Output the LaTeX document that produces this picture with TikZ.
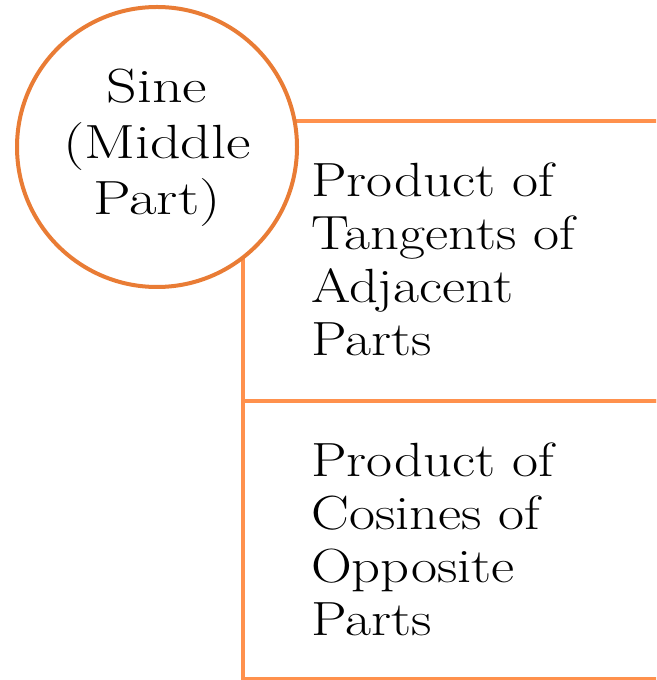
\documentclass[tikz,border=0pt]{standalone}
\usepackage{graphicx}
\definecolor{ringorange}{HTML}{E97C35}
\definecolor{boxorange}{HTML}{FF914D}
% widened serif lines for the labels
\newcommand{\widelines}[3]{\scalebox{#1}[1]{\begin{tabular}{@{}#2@{}}#3\end{tabular}}}
\begin{document}
\begin{tikzpicture}[x=1pt,y=1pt,
  panel/.style={draw=boxorange, line width=4pt, rectangle, inner sep=0pt,
    outer sep=0pt, minimum width=460pt, anchor=north west},
  label/.style={font=\fontsize{48}{53}\selectfont, inner sep=0pt,
    anchor=north west},
  ring/.style={draw=ringorange, fill=white, line width=4pt, circle,
    minimum size=280pt, inner sep=0pt,
    font=\fontsize{48}{56}\selectfont}]
  \useasboundingbox (0,0) rectangle (656,680);
  \clip (0,0) rectangle (656,680);
  % two stacked panels, open to the right
  \node[panel, minimum height=280pt] (top) at (242.5,559) {};
  \node[panel, minimum height=278pt] (bottom) at (242.5,279) {};
  % circle on top of the panels' corner
  \node[ring] (sine) at (157,533) {\raisebox{-2pt}{\widelines{1.25}{c}{Sine\\(Middle\\Part)}}};
  % panel texts
  \node[label] (tantext) at (311,521) {\widelines{1.18}{l}{Product of\\Tangents of\\Adjacent\\Parts}};
  \node[label] (costext) at (311,241) {\widelines{1.18}{l}{Product of\\Cosines of\\Opposite\\Parts}};
\end{tikzpicture}
\end{document}
